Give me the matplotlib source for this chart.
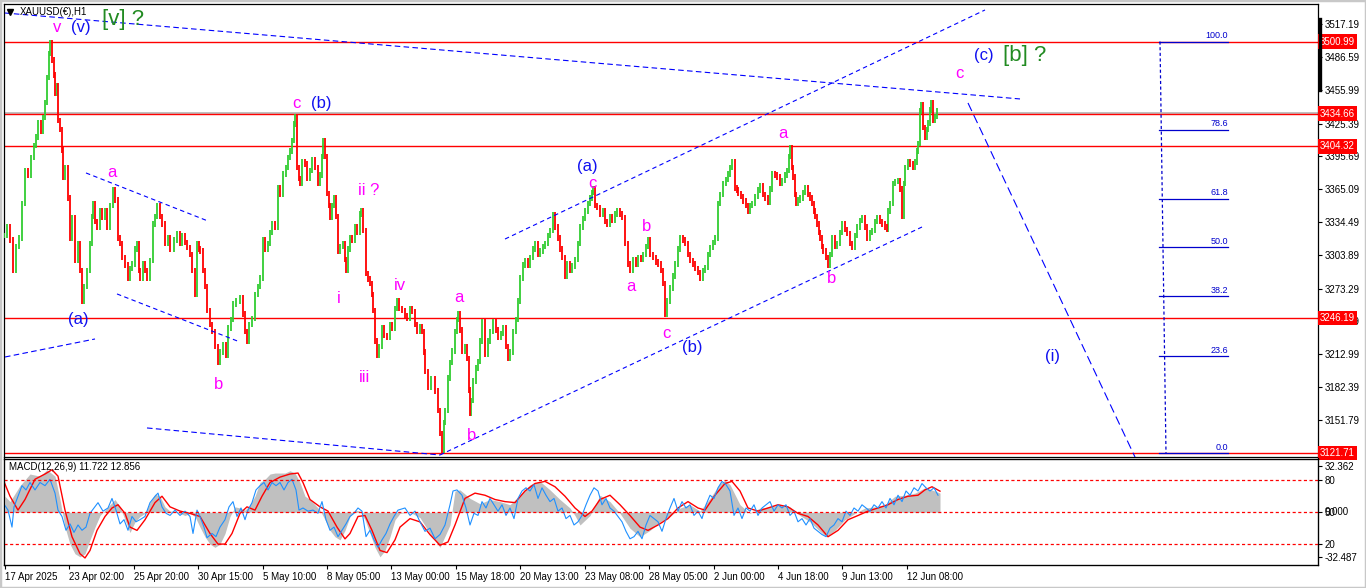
import numpy as np
import matplotlib.pyplot as plt
from matplotlib.lines import Line2D
from matplotlib.patches import Rectangle

plt.rcParams['font.family'] = ['Liberation Sans', 'DejaVu Sans']

W, H = 1366, 588

# H1 price path (bar position, close)
price_pts = [
    (4, 3322), (7, 3330), (10, 3318), (13, 3290), (16, 3312), (19, 3320), (22, 3352), (25, 3382),
    (28, 3378), (31, 3394), (34, 3405), (36, 3413), (38, 3426), (41, 3418), (43, 3431), (45, 3445),
    (47, 3468), (49, 3490), (50, 3500), (52, 3484), (54, 3470), (55, 3453), (57, 3460), (58, 3428),
    (60, 3420), (62, 3401), (63, 3376), (65, 3385), (68, 3357), (70, 3320), (72, 3339), (75, 3299),
    (78, 3315), (80, 3290), (82, 3262), (84, 3275), (87, 3290), (90, 3315), (92, 3340), (93, 3352),
    (95, 3335), (97, 3330), (100, 3345), (102, 3339), (105, 3345), (107, 3330), (110, 3350), (113, 3364),
    (115, 3355), (118, 3320), (120, 3315), (122, 3302), (125, 3295), (128, 3283), (130, 3292), (132, 3296),
    (135, 3310), (137, 3315), (139, 3290), (140, 3283), (143, 3296), (145, 3290), (147, 3283), (150, 3299),
    (153, 3333), (155, 3340), (157, 3350), (160, 3340), (162, 3333), (165, 3315), (168, 3320), (170, 3310),
    (174, 3318), (177, 3324), (180, 3315), (182, 3322), (185, 3316), (187, 3311), (190, 3305), (192, 3290),
    (195, 3268), (197, 3315), (199, 3310), (200, 3308), (203, 3290), (205, 3275), (207, 3253), (210, 3240),
    (212, 3234), (215, 3220), (218, 3205), (220, 3215), (223, 3222), (226, 3212), (228, 3237), (231, 3245),
    (233, 3259), (236, 3262), (240, 3265), (243, 3250), (245, 3234), (247, 3225), (249, 3240), (252, 3246),
    (255, 3268), (258, 3275), (260, 3283), (263, 3318), (265, 3310), (268, 3315), (270, 3325), (272, 3333),
    (275, 3330), (278, 3366), (280, 3360), (283, 3379), (286, 3385), (288, 3394), (290, 3400), (292, 3410),
    (294, 3425), (295, 3432), (297, 3385), (299, 3375), (300, 3370), (302, 3390), (305, 3388), (307, 3375),
    (310, 3382), (312, 3392), (315, 3385), (318, 3370), (320, 3378), (322, 3395), (323, 3410), (325, 3395),
    (327, 3361), (329, 3350), (330, 3339), (332, 3350), (334, 3357), (336, 3340), (338, 3308), (340, 3312),
    (343, 3315), (345, 3300), (346, 3290), (348, 3310), (350, 3320), (352, 3318), (355, 3330), (357, 3325),
    (360, 3342), (361, 3345), (363, 3327), (366, 3287), (368, 3282), (370, 3278), (372, 3268), (373, 3253),
    (375, 3225), (377, 3212), (379, 3220), (382, 3237), (384, 3230), (387, 3228), (390, 3240), (392, 3237),
    (395, 3255), (397, 3262), (399, 3255), (402, 3253), (405, 3248), (407, 3246), (410, 3255), (412, 3252),
    (415, 3240), (417, 3234), (420, 3238), (422, 3234), (424, 3215), (425, 3197), (428, 3182), (431, 3190),
    (435, 3179), (438, 3161), (440, 3140), (442, 3124), (444, 3150), (445, 3161), (448, 3191), (450, 3205),
    (452, 3216), (455, 3234), (457, 3245), (458, 3250), (460, 3235), (462, 3216), (465, 3220), (467, 3209),
    (469, 3180), (470, 3158), (471, 3170), (473, 3188), (476, 3200), (478, 3206), (480, 3225), (482, 3243),
    (485, 3213), (488, 3225), (490, 3234), (493, 3243), (496, 3235), (498, 3228), (501, 3232), (503, 3237),
    (506, 3220), (508, 3209), (510, 3215), (513, 3234), (516, 3245), (518, 3262), (520, 3283), (523, 3295),
    (525, 3299), (528, 3295), (530, 3302), (533, 3310), (535, 3315), (538, 3305), (540, 3308), (543, 3312),
    (545, 3315), (548, 3322), (550, 3327), (553, 3341), (555, 3330), (558, 3320), (560, 3310), (562, 3302),
    (565, 3285), (567, 3296), (570, 3290), (572, 3294), (575, 3300), (578, 3315), (580, 3330), (583, 3338),
    (585, 3345), (588, 3352), (590, 3357), (592, 3362), (593, 3365), (595, 3350), (597, 3348), (600, 3342),
    (603, 3345), (605, 3335), (607, 3333), (610, 3340), (612, 3336), (615, 3342), (617, 3345), (620, 3342),
    (622, 3339), (625, 3315), (628, 3296), (630, 3290), (633, 3300), (636, 3296), (638, 3302), (641, 3300),
    (643, 3305), (646, 3312), (648, 3318), (650, 3305), (653, 3302), (656, 3298), (658, 3296), (661, 3290),
    (663, 3278), (665, 3250), (667, 3262), (670, 3274), (673, 3285), (675, 3296), (678, 3310), (680, 3320),
    (683, 3318), (685, 3315), (688, 3305), (690, 3299), (693, 3296), (695, 3292), (698, 3288), (700, 3283),
    (703, 3290), (705, 3293), (708, 3305), (710, 3311), (713, 3316), (715, 3320), (718, 3352), (720, 3360),
    (723, 3370), (726, 3374), (728, 3379), (730, 3385), (732, 3390), (735, 3366), (737, 3364), (738, 3361),
    (741, 3358), (743, 3354), (746, 3350), (748, 3345), (750, 3350), (752, 3352), (755, 3358), (758, 3364),
    (760, 3368), (763, 3360), (765, 3357), (768, 3353), (770, 3365), (772, 3379), (775, 3378), (777, 3376),
    (780, 3370), (782, 3373), (785, 3378), (787, 3382), (789, 3395), (790, 3403), (792, 3385), (793, 3376),
    (795, 3360), (796, 3352), (798, 3355), (800, 3357), (803, 3362), (805, 3366), (808, 3360), (810, 3357),
    (812, 3352), (814, 3345), (815, 3340), (817, 3333), (819, 3325), (820, 3320), (822, 3312), (823, 3308),
    (826, 3302), (828, 3295), (830, 3305), (832, 3320), (835, 3312), (837, 3315), (840, 3325), (842, 3333),
    (845, 3328), (847, 3324), (850, 3315), (852, 3311), (855, 3322), (857, 3330), (860, 3336), (862, 3339),
    (865, 3330), (867, 3320), (870, 3325), (872, 3327), (875, 3335), (877, 3339), (880, 3335), (882, 3333),
    (885, 3330), (887, 3328), (888, 3345), (890, 3352), (893, 3370), (895, 3372), (898, 3373), (900, 3365),
    (902, 3340), (904, 3370), (905, 3385), (908, 3390), (910, 3388), (913, 3385), (915, 3390), (917, 3400),
    (918, 3407), (920, 3437), (921, 3443), (923, 3422), (925, 3413), (927, 3420), (928, 3426), (930, 3438),
    (931, 3445), (933, 3428), (935, 3432), (937, 3437),
]

# MACD(12,26,9): main histogram and signal
macd_pts = [
    (5, 9.8), (10, 6.5), (20, 16.3), (30, 23.4), (40, 22.1), (47, 26), (55, 22.1), (60, 7.8), (65, -9.1),
    (70, -19.5), (75, -25.4), (80, -27.3), (85, -25.4), (90, -16.9), (95, -9.1), (100, -2), (105, 1.3),
    (110, 4.6), (115, 7.8), (120, 3.3), (125, -4.6), (130, -12.4), (135, -5.9), (140, -2.6), (145, -0.7),
    (150, 5.9), (155, 11.1), (160, 9.8), (165, 3.3), (170, 0.7), (175, 0.7), (180, -0.7), (185, -2),
    (190, -0.7), (195, -2.6), (200, -9.1), (205, -15), (210, -19.5), (215, -21.5), (220, -19.5), (225, -13),
    (230, -2.6), (235, 3.3), (240, 2.6), (245, 1.3), (250, 4.6), (255, 9.8), (260, 18.2), (265, 20.2),
    (270, 23.4), (275, 24), (280, 24), (285, 24), (290, 25.4), (295, 24), (300, 18.2), (305, 9.8),
    (310, 7.8), (315, 4.6), (320, 1.3), (325, -4.6), (330, -11.1), (335, -15), (340, -16.9), (345, -11.1),
    (350, -2.6), (355, 1.3), (360, 0.7), (365, -4.6), (370, -13), (375, -21.5), (380, -27.3), (385, -23.4),
    (390, -15), (395, -4.6), (400, -0.7), (410, 0), (420, -3.3), (430, -13), (440, -21.5), (450, -7.8),
    (455, 13), (460, 13.7), (470, 8.5), (480, 5.2), (490, 7.8), (500, 6.5), (510, 4.6), (520, 10.4),
    (530, 16.9), (540, 18.9), (550, 13.7), (560, 7.8), (570, 2.6), (575, -2), (580, -7.8), (590, -2),
    (600, 10.4), (610, 6.5), (620, -0.7), (630, -9.8), (640, -15), (650, -11.1), (660, -5.9), (670, -2.6),
    (680, 2.6), (690, 4.6), (700, 0.7), (710, 8.5), (720, 17.6), (725, 19.5), (730, 16.9), (740, 4.6),
    (750, -0.7), (760, 2.6), (770, 3.3), (780, 4.6), (790, 3.3), (800, -2), (810, -5.9), (820, -11.7),
    (826, -15), (835, -11.1), (845, -4.6), (855, -0.7), (865, 2.6), (875, 3.3), (885, 4.6), (895, 9.8),
    (905, 10.4), (915, 11.7), (925, 15), (935, 13), (940, 11.7),
]
signal_pts = [
    (3, 20.2), (10, 9.8), (18, 1.3), (25, 7.8), (35, 20.2), (45, 23.4), (52, 26), (58, 22.1), (65, 1.3),
    (72, -15), (80, -25.4), (85, -28), (90, -23.4), (97, -11.1), (105, -2.6), (112, 2.6), (118, 4.6),
    (125, -0.7), (130, -9.1), (137, -11.1), (145, -4.6), (155, 5.9), (162, 9.8), (170, 3.3), (180, 0.7),
    (190, -0.7), (200, -2.6), (210, -13), (218, -19.5), (225, -19.5), (232, -13), (240, -0.7), (247, 3.3),
    (255, 1.3), (262, 9.8), (270, 18.2), (280, 21.5), (290, 23.4), (298, 24), (303, 18.2), (310, 7.8),
    (320, 3.3), (328, 0.7), (337, -9.1), (345, -16.3), (350, -13), (358, -2.6), (365, -2), (372, -11.1),
    (380, -23.4), (387, -24.7), (395, -16.9), (400, -9.1), (410, -3.9), (420, -5.9), (430, -13.7),
    (440, -20.2), (448, -18.2), (455, -7.8), (465, 8.5), (475, 11.7), (485, 10.4), (495, 7.8), (505, 6.5),
    (515, 5.9), (525, 13), (535, 17.6), (545, 18.9), (555, 15.6), (565, 9.8), (575, 2.6), (585, -2.6),
    (592, 0.7), (600, 7.8), (610, 10.4), (620, 4.6), (630, -2), (640, -9.1), (648, -11.1), (658, -7.8),
    (668, -3.9), (678, 2.6), (688, 6.5), (698, 2.6), (705, 1.3), (715, 10.4), (725, 17.6), (732, 18.9),
    (740, 13), (748, 2.6), (758, 0.7), (768, 2.6), (778, 4.6), (788, 3.3), (798, -0.7), (808, -2.6),
    (818, -7.8), (828, -15), (838, -11.1), (848, -4.6), (858, -2), (868, 0.7), (878, 2.6), (888, 4.6),
    (898, 7.8), (908, 9.8), (918, 10.4), (925, 13.7), (932, 15.6), (940, 12.9),
]
# blue oscillator (0-100 scale, levels 80/50/20)
osc_pts = [
    (3, 59), (8, 52), (12, 36), (14, 55), (18, 65), (22, 75), (26, 71), (30, 78), (35, 71), (40, 78),
    (45, 75), (50, 81), (55, 68), (58, 52), (62, 46), (66, 33), (70, 39), (74, 31), (78, 38), (82, 33),
    (86, 36), (90, 49), (94, 54), (98, 59), (103, 51), (108, 54), (112, 63), (116, 52), (120, 39), (124, 43),
    (128, 33), (132, 46), (136, 41), (140, 43), (145, 46), (150, 59), (155, 65), (158, 68), (162, 55),
    (166, 49), (170, 47), (175, 52), (180, 47), (185, 51), (190, 46), (193, 30), (197, 52), (200, 46),
    (204, 36), (207, 26), (212, 30), (216, 27), (220, 36), (225, 43), (229, 55), (233, 60), (237, 46),
    (241, 54), (245, 43), (248, 52), (252, 59), (256, 71), (260, 75), (264, 78), (268, 71), (272, 78),
    (276, 75), (280, 78), (284, 71), (288, 78), (292, 81), (296, 71), (299, 52), (303, 54), (308, 51),
    (313, 52), (318, 49), (322, 60), (326, 43), (330, 33), (334, 36), (338, 27), (342, 33), (346, 39),
    (350, 46), (354, 49), (358, 54), (362, 51), (366, 27), (370, 33), (374, 24), (378, 17), (382, 24),
    (386, 30), (390, 39), (394, 46), (398, 52), (405, 54), (410, 47), (415, 51), (420, 41), (425, 32),
    (430, 35), (435, 25), (440, 29), (445, 38), (450, 57), (453, 70), (457, 71), (462, 66), (466, 54),
    (470, 38), (474, 49), (478, 47), (482, 60), (486, 54), (490, 63), (494, 57), (498, 51), (502, 57),
    (506, 47), (510, 54), (514, 44), (518, 63), (522, 70), (526, 73), (530, 70), (534, 76), (538, 63),
    (542, 73), (546, 66), (550, 60), (554, 63), (558, 51), (562, 54), (566, 44), (570, 47), (574, 38),
    (578, 41), (582, 47), (586, 57), (590, 66), (594, 73), (598, 70), (602, 57), (606, 63), (610, 54),
    (614, 51), (618, 46), (622, 41), (626, 32), (630, 25), (634, 27), (638, 32), (642, 25), (646, 38),
    (650, 47), (654, 44), (658, 41), (662, 32), (666, 44), (670, 54), (674, 63), (678, 51), (682, 60),
    (686, 54), (690, 57), (694, 47), (698, 51), (702, 44), (706, 57), (710, 66), (714, 63), (718, 73),
    (722, 79), (726, 76), (730, 70), (734, 47), (738, 54), (742, 44), (746, 54), (750, 51), (754, 57),
    (758, 47), (762, 54), (766, 57), (770, 60), (774, 51), (778, 57), (782, 54), (786, 57), (790, 47),
    (794, 51), (798, 41), (802, 44), (806, 38), (810, 44), (814, 35), (818, 32), (822, 29), (826, 27),
    (830, 35), (834, 38), (838, 44), (842, 41), (846, 51), (850, 47), (854, 54), (858, 51), (862, 57),
    (866, 54), (870, 51), (874, 57), (878, 54), (882, 60), (886, 54), (890, 63), (894, 57), (898, 66),
    (902, 60), (906, 70), (910, 66), (914, 73), (918, 70), (922, 77), (926, 73), (930, 70), (934, 73),
    (938, 66),
]

price_ticks = [3517.19, 3486.59, 3455.99, 3425.39, 3395.69, 3365.09, 3334.49, 3303.89,
               3273.29, 3243.59, 3212.99, 3182.39, 3151.79]
hlines = [3500.99, 3434.66, 3404.32, 3246.19, 3121.71]
fib_hi, fib_lo = 3500.99, 3121.71
fib_ratios = [100.0, 78.6, 61.8, 50.0, 38.2, 23.6, 0.0]

time_bars = [5, 69, 134, 198, 263, 327, 391, 456, 520, 585, 649, 714, 778, 842, 907]
time_labels = ['17 Apr 2025', '23 Apr 02:00', '25 Apr 20:00', '30 Apr 15:00', '5 May 10:00',
               '8 May 05:00', '13 May 00:00', '15 May 18:00', '20 May 13:00', '23 May 08:00',
               '28 May 05:00', '2 Jun 00:00', '4 Jun 18:00', '9 Jun 13:00', '12 Jun 08:00']

# trend lines: (bar, price) -> (bar, price), dash style
trend_lines = [
    ((5, 3527.3), (1020, 3448.1), (5, 3)),
    ((505, 3319.0), (985, 3530.1), (4, 3)),
    ((440, 3120.0), (922, 3330.1), (4, 3)),
    ((968, 3444.4), (1135, 3118.1), (8, 4)),
    ((86, 3379.9), (208, 3335.6), (4, 3)),
    ((117, 3268.4), (240, 3224.1), (4, 3)),
    ((5, 3210.3), (95, 3226.9), (5, 3)),
    ((147, 3144.9), (440, 3120.0), (5, 3)),
]

MAG, BLU, GRN = '#FF00FF', '#1010F0', '#228B22'
wave_labels = [
    ('v', 57, 3513.5, MAG, 12), ('(v)', 81, 3514.4, BLU, 12), ('[v] ?', 123, 3520.9, GRN, 16),
    ('c', 296, 3443.5, MAG, 12), ('(b)', 321, 3443.5, BLU, 12),
    ('a', 112, 3379.9, MAG, 12), ('(a)', 78, 3244.4, BLU, 12), ('b', 219, 3184.5, MAG, 12),
    ('ii ?', 369, 3363.3, MAG, 12), ('i', 339, 3263.8, MAG, 12), ('iv', 400, 3276.6, MAG, 12),
    ('iii', 365, 3191.8, MAG, 12), ('a', 459, 3264.7, MAG, 12), ('b', 472, 3137.5, MAG, 12),
    ('(a)', 587, 3386.3, BLU, 12), ('c', 592, 3370.6, MAG, 12), ('b', 647, 3331.0, MAG, 12),
    ('a', 631, 3275.7, MAG, 12), ('c', 666, 3231.5, MAG, 12), ('(b)', 692, 3219.5, BLU, 12),
    ('a', 783, 3415.8, MAG, 12), ('b', 832, 3282.2, MAG, 12),
    ('c', 959, 3472.0, MAG, 12), ('(c)', 984, 3488.6, BLU, 12), ('[b] ?', 1025, 3487.7, GRN, 16),
    ('(i)', 1052, 3210.3, BLU, 12),
]

fig = plt.figure(figsize=(W / 100, H / 100), dpi=100)
fig.patches.append(Rectangle((0, 0), 1, 1, transform=fig.transFigure, fill=False,
                             edgecolor='#C8C8C8', lw=2.5))

# ---- price panel ----
ax = fig.add_axes([4 / W, 1 - 456.5 / H, 1314 / W, 452.5 / H])
ax.set_xlim(4, 1318)
ax.set_ylim(3118.6, 3535.6)

bx, cl = map(np.array, zip(*price_pts))
prev = np.r_[cl[0], cl[:-1]]
lo = np.minimum(prev, cl) - 2.5
hi = np.maximum(prev, cl) + 2.5
up = cl >= prev
ax.vlines(bx[up], lo[up], hi[up], color='#32CD32', lw=1.3, zorder=3)
ax.vlines(bx[~up], lo[~up], hi[~up], color='#FF0000', lw=1.3, zorder=3)

ax.axhline(3435.6, color='#B4B4B4', lw=1.2, zorder=2)
for lv in hlines:
    ax.axhline(lv, color='#FF0000', lw=1, zorder=2)
    ax.text(1.0015, lv, f'{lv:.2f}', transform=ax.get_yaxis_transform(), ha='left', va='center',
            color='white', fontsize=7, zorder=6, clip_on=False,
            bbox=dict(boxstyle='square,pad=0.22', facecolor='#FF0000', edgecolor='none'))

for (x0, y0), (x1, y1), dash in trend_lines:
    ax.plot([x0, x1], [y0, y1], color='#0000FF', lw=0.8, ls=(0, dash), zorder=4)

# fibonacci
for r in fib_ratios:
    p = fib_lo + (fib_hi - fib_lo) * r / 100
    ax.plot([1159, 1228], [p, p], color='#0000CD', lw=0.9, zorder=4)
    ax.text(1228, p + 1.2, f'{r:.1f}', ha='right', va='bottom', color='#0000CD', fontsize=6.5, zorder=5)
ax.plot([1160, 1166], [fib_hi, fib_lo], color='#0000CD', lw=0.9, ls=(0, (2.5, 2)), zorder=4)

for txt, x, y, col, fs in wave_labels:
    ax.text(x, y, txt, color=col, fontsize=fs, ha='center', va='center', zorder=6)

ax.text(16 / 1314, 1 - 8 / 452.5, 'XAUUSD(€),H1', transform=ax.transAxes, fontsize=7,
        ha='left', va='center', zorder=6)
ax.plot([6 / 1314], [1 - 8 / 452.5], marker='v', ms=4, color='black', transform=ax.transAxes,
        clip_on=False, zorder=6)

ax.yaxis.tick_right()
ax.set_yticks(price_ticks)
ax.set_yticklabels([f'{t:.2f}' for t in price_ticks])
ax.tick_params(axis='y', direction='out', length=3, width=0.8, pad=1.5, labelsize=7)
ax.set_xticks([])
for s in ax.spines.values():
    s.set_linewidth(0.9)

fig.add_artist(Line2D([1319.5 / W] * 2, [1 - 19 / H, 1 - 90 / H], color='black', lw=2.4))

# ---- MACD panel ----
axm = fig.add_axes([4 / W, 1 - 565 / H, 1314 / W, 106.5 / H])
axm.set_xlim(4, 1318)
axm.set_ylim(-32.3, 32.9)
mx, mv = zip(*macd_pts)
axm.fill_between(mx, 0, mv, color='#C0C0C0', lw=0)
sx, sv = zip(*signal_pts)
axm.plot(sx, sv, color='#FF0000', lw=1)
axm.set_yticks([])
axm.set_xticks(time_bars)
axm.set_xticklabels(time_labels)
axm.tick_params(axis='x', direction='out', length=3, width=0.8, pad=2, labelsize=7)
for lbl in axm.get_xticklabels():
    lbl.set_ha('left')
for s in axm.spines.values():
    s.set_linewidth(0.9)

axs = axm.twinx()
axs.set_ylim(0.3, 100.6)
ox, ov = zip(*osc_pts)
axs.plot(ox, ov, color='#1E90FF', lw=0.8)
for lv in [80, 50, 20]:
    axs.axhline(lv, color='#FF0000', lw=0.9, ls=(0, (2.5, 2)))
axs.set_yticks([93.5, 80, 50, 20, 7.5])
axs.set_yticklabels(['32.362', '80', '50', '20', '-32.487'])
axs.tick_params(axis='y', direction='out', length=3, width=0.8, pad=1.5, labelsize=7)
axs.text(1 + 6.7 / 1314, 50, '0.000', transform=axs.get_yaxis_transform(), ha='left',
         va='center', fontsize=7, clip_on=False)
axm.text(5 / 1314, 1 - 9 / 106.5, 'MACD(12,26,9) 11.722 12.856', transform=axm.transAxes,
         fontsize=7, ha='left', va='center')

plt.savefig('out.png', dpi=100)
